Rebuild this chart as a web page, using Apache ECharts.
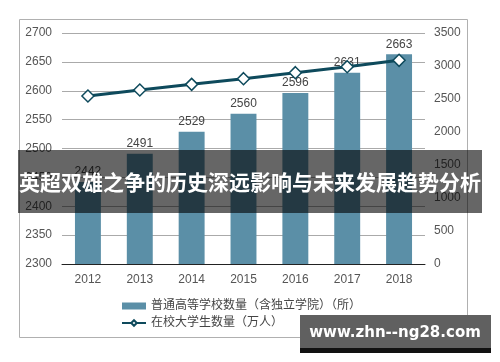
<!DOCTYPE html>
<html><head><meta charset="utf-8">
<script src="https://cdn.jsdelivr.net/npm/echarts@6/dist/echarts.min.js"></script>
<style>html,body{margin:0;padding:0;background:#fff}#c{width:500px;height:362px}</style>
</head><body><div id="c"></div>
<script>
var years = ['2012','2013','2014','2015','2016','2017','2018'];
var schools = [2442, 2491, 2529, 2560, 2596, 2631, 2663];
var students = [2545, 2636, 2722, 2808, 2899, 2990, 3086];
var leftTicks = [2300, 2700, 50];
var rightTicks = [0, 3500, 500];
var seriesNames = ['普通高等学校数量（含独立学院）（所）', '在校大学生数量（万人）'];
var bannerText = '英超双雄之争的历史深远影响与未来发展趋势分析';
var watermark = 'www.zhn--ng28.com';

var font = '"Liberation Sans", Arial, "Noto Sans CJK SC", sans-serif';
var plain = function (v) { return String(v); };
var chart = echarts.init(document.getElementById('c'));
chart.setOption({
  animation: false,
  textStyle: {fontFamily: font},
  grid: {left: 62, right: 75, top: 33, bottom: 98, containLabel: false},
  legend: {
    orient: 'vertical', left: 116, top: 295, itemGap: 5, itemWidth: 24, itemHeight: 7,
    textStyle: {color: '#444', fontSize: 12, fontFamily: font},
    data: [
      {name: seriesNames[0], icon: 'rect'},
      {name: seriesNames[1]}
    ]
  },
  xAxis: {
    type: 'category', data: years,
    axisLine: {lineStyle: {color: '#222', width: 1}},
    axisTick: {show: false},
    axisLabel: {color: '#555', fontSize: 12, margin: 10}
  },
  yAxis: [
    {type: 'value', min: leftTicks[0], max: leftTicks[1], interval: leftTicks[2],
     axisLine: {show: false}, axisTick: {show: false},
     splitLine: {lineStyle: {color: '#aaa'}},
     axisLabel: {color: '#555', fontSize: 12, margin: 10, formatter: plain}},
    {type: 'value', min: rightTicks[0], max: rightTicks[1], interval: rightTicks[2],
     axisLine: {show: false}, axisTick: {show: false}, splitLine: {show: false},
     axisLabel: {color: '#555', fontSize: 12, margin: 9, formatter: plain}}
  ],
  series: [
    {name: seriesNames[0], type: 'bar', data: schools, barWidth: '50%',
     itemStyle: {color: '#5b8fa7'},
     label: {show: true, position: 'top', color: '#444', fontSize: 12, distance: 4}},
    {name: seriesNames[1], type: 'line', yAxisIndex: 1, data: students,
     lineStyle: {color: '#0e4a5c', width: 3},
     itemStyle: {color: '#ffffff', borderColor: '#0e4a5c', borderWidth: 1.5},
     symbol: 'diamond', symbolSize: 12, showAllSymbol: true}
  ],
  graphic: [
    {type: 'rect', shape: {x: 19.5, y: 19.5, width: 448, height: 318}, style: {fill: 'none', stroke: '#b0b0b0', lineWidth: 1}, z: 0},
    {type: 'rect', shape: {x: 18, y: 150, width: 464, height: 63}, style: {fill: 'rgba(0,0,0,0.6)'}, z: 100},
    {type: 'text', x: 250, y: 182, style: {text: bannerText, fill: '#fff', font: 'bold 21px "Noto Sans CJK SC", sans-serif', textAlign: 'center', textVerticalAlign: 'middle'}, z: 101},
    {type: 'rect', shape: {x: 300, y: 315, width: 191, height: 38}, style: {fill: '#111'}, z: 100},
    {type: 'rect', shape: {x: 300, y: 315, width: 191, height: 33}, style: {fill: '#606060'}, z: 100},
    {type: 'text', x: 395, y: 333, style: {text: watermark, fill: '#fff', font: 'bold 15px "DejaVu Sans", sans-serif', textAlign: 'center', textVerticalAlign: 'middle'}, z: 101}
  ]
});
</script></body></html>
